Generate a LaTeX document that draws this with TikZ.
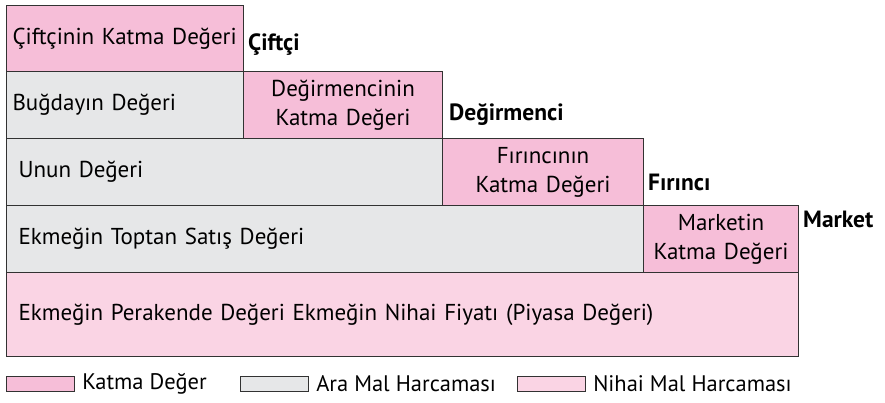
\documentclass[tikz,border=0pt]{standalone}
\usepackage{fontspec}
\setmainfont{PT Sans}
\usetikzlibrary{positioning}
\definecolor{katma}{RGB}{246,190,216}
\definecolor{ara}{RGB}{230,231,232}
\definecolor{nihai}{RGB}{250,212,228}
\definecolor{cizgi}{RGB}{50,50,50}
\begin{document}
\begin{tikzpicture}[x=1pt,y=-1pt,font=\fontsize{23}{29}\selectfont,
    kutu/.style={draw=cizgi,line width=1.1pt,anchor=north west,inner ysep=0pt,minimum height=#1},
    katmakutu/.style={kutu=#1,fill=katma,align=center},
    arakutu/.style={kutu=#1,fill=ara,align=left},
    etiket/.style={anchor=west,inner sep=0pt,font=\fontsize{23.5}{26}\selectfont\bfseries},
    lejant/.style={draw=cizgi,line width=1.1pt,anchor=north west,inner sep=0pt,minimum width=68pt,minimum height=15pt}]
    \useasboundingbox (0,0) rectangle (885,402);
    % satirlar
    \node[katmakutu=66pt,align=left,inner xsep=6pt,text width=225pt] (ciftcikatma) at (6,5) {Çiftçinin Katma Değeri};
    \node[arakutu=67pt,inner xsep=6pt,text width=225pt] (bugday) at (6,71) {Buğdayın Değeri};
    \node[katmakutu=67pt,text width=199pt,inner xsep=0pt] (degirmencikatma) at (243,71) {Değirmencinin\\Katma Değeri};
    \node[arakutu=67pt,inner xsep=12pt,text width=412pt] (un) at (6,138) {Unun Değeri};
    \node[katmakutu=67pt,text width=201pt,inner xsep=0pt] (firincikatma) at (442,138) {Fırıncının\\Katma Değeri};
    \node[arakutu=67pt,inner xsep=12pt,text width=613pt] (toptan) at (6,205) {Ekmeğin Toptan Satış Değeri};
    \node[katmakutu=67pt,text width=155pt,inner xsep=0pt] (marketkatma) at (643,205) {Marketin\\Katma Değeri};
    \node[kutu=84pt,fill=nihai,align=left,inner xsep=12pt,text width=768pt] (perakende) at (6,272) {Ekmeğin Perakende Değeri Ekmeğin Nihai Fiyatı (Piyasa Değeri)};
    % etiketler
    \node[etiket] (ciftci) at (248,45) {Çiftçi};
    \node[etiket] (degirmenci) at (449,115) {Değirmenci};
    \node[etiket] (firinci) at (648,182) {Fırıncı};
    \node[etiket] (market) at (803,219) {Market};
    % lejant
    \node[lejant,fill=katma] (lkatma) at (6,376) {};
    \node[right=7pt of lkatma,inner sep=0pt,font=\fontsize{22.5}{26}\selectfont] (tkatma) {Katma Değer};
    \node[lejant,fill=ara] (lara) at (240,376) {};
    \node[right=7pt of lara,inner sep=0pt,font=\fontsize{22.5}{26}\selectfont] (tara) {Ara Mal Harcaması};
    \node[lejant,fill=nihai] (lnihai) at (517,376) {};
    \node[right=7pt of lnihai,inner sep=0pt,font=\fontsize{22.5}{26}\selectfont] (tnihai) {Nihai Mal Harcaması};
\end{tikzpicture}
\end{document}
